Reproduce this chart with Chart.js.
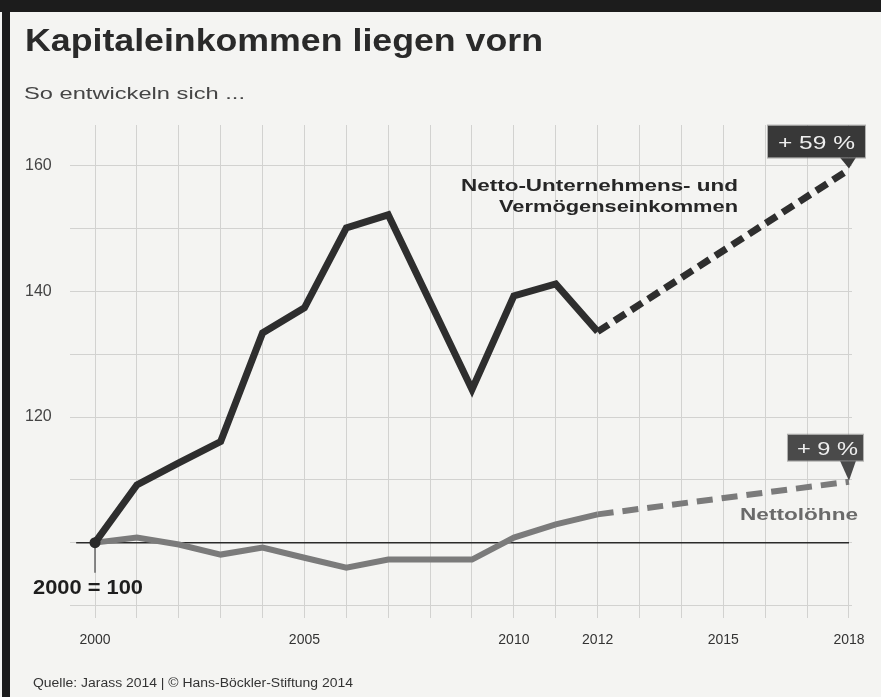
<!DOCTYPE html>
<html lang="de">
<head>
<meta charset="utf-8">
<title>Kapitaleinkommen liegen vorn</title>
<script src="https://cdn.jsdelivr.net/npm/chart.js@4"></script>
<style>
  html, body { margin: 0; padding: 0; background: #f4f4f2; }
  canvas { display: block; }
</style>
</head>
<body>
<canvas id="kapitalChart" width="881" height="697"></canvas>
<script>
// Werte (2000 = 100)
const years = [2000, 2001, 2002, 2003, 2004, 2005, 2006, 2007, 2008, 2009, 2010, 2011, 2012, 2018];
const kapital = [100, 109.2, 112.7, 116.1, 133.4, 137.4, 150.1, 152.2, 138.3, 124.4, 139.3, 141.2, 133.6, 159.4];
const loehne = [100, 100.8, 99.7, 98.1, 99.2, 97.6, 96.0, 97.3, 97.3, 97.3, 100.8, 102.9, 104.5, 109.7];
const xTickLabels = [2000, 2005, 2010, 2012, 2015, 2018];
const yTickLabels = [120, 140, 160];
const yGrid = [90, 100, 110, 120, 130, 140, 150, 160];
const prognoseAb = 2012;

const gridYears = [];
for (let y = 2000; y <= 2018; y++) gridYears.push(y);

const sans = '"Liberation Sans", Arial, sans-serif';

function fitText(ctx, text, left, right, baseline, font, color) {
  ctx.save();
  ctx.font = font;
  const w = ctx.measureText(text).width;
  ctx.translate(left, baseline);
  ctx.scale((right - left) / w, 1);
  ctx.fillStyle = color;
  ctx.textBaseline = 'alphabetic';
  ctx.textAlign = 'left';
  ctx.fillText(text, 0, 0);
  ctx.restore();
}

// Kasten mit Spitze, die auf den Endwert zeigt
function badge(ctx, text, tipX, tipY, box, textBox, fill) {
  ctx.save();
  ctx.fillStyle = fill;
  ctx.fillRect(tipX + box.l, tipY + box.t, box.r - box.l, box.b - box.t);
  ctx.beginPath();
  ctx.moveTo(tipX - 9, tipY + box.b);
  ctx.lineTo(tipX + 7, tipY + box.b);
  ctx.lineTo(tipX, tipY - 1);
  ctx.closePath();
  ctx.fill();
  ctx.strokeStyle = 'rgba(130,130,130,0.6)';
  ctx.lineWidth = 1;
  ctx.strokeRect(tipX + box.l - 0.5, tipY + box.t - 0.5, box.r - box.l + 1, box.b - box.t + 1);
  ctx.restore();
  fitText(ctx, text, tipX + textBox.l, tipX + textBox.r, tipY + textBox.base, '19px ' + sans, '#eeeeee');
}

const decor = {
  id: 'decor',
  beforeDraw(chart) {
    const ctx = chart.ctx;
    ctx.save();
    ctx.fillStyle = '#f4f4f2';
    ctx.fillRect(0, 0, chart.width, chart.height);
    ctx.fillStyle = '#1c1c1c';
    ctx.fillRect(0, 0, chart.width, 12);
    ctx.fillRect(2, 0, 8, chart.height);
    ctx.restore();
  },
  afterDatasetsDraw(chart) {
    const ctx = chart.ctx;
    const xs = chart.scales.x, ys = chart.scales.y;
    const last = years.length - 1;
    badge(ctx, '+ 59 %', xs.getPixelForValue(years[last]), ys.getPixelForValue(kapital[last]),
      { l: -81, r: 16, t: -44, b: -12 }, { l: -71, r: 6, base: -21 }, '#383838');
    badge(ctx, '+ 9 %', xs.getPixelForValue(years[last]), ys.getPixelForValue(loehne[last]),
      { l: -61, r: 14, t: -47, b: -21 }, { l: -52, r: 9, base: -27 }, '#4a4a4a');
  },
  afterDraw(chart) {
    const ctx = chart.ctx;
    fitText(ctx, 'Kapitaleinkommen liegen vorn', 25, 543, 51, 'bold 31px ' + sans, '#2a2a2a');
    fitText(ctx, 'So entwickeln sich ...', 24, 245, 99, '17px ' + sans, '#454545');
    fitText(ctx, 'Netto-Unternehmens- und', 461, 738, 191, 'bold 17px ' + sans, '#262626');
    fitText(ctx, 'Vermögenseinkommen', 499, 738, 212, 'bold 17px ' + sans, '#262626');
    fitText(ctx, 'Nettolöhne', 740, 858, 520, 'bold 17px ' + sans, '#6a6a6a');
    fitText(ctx, '2000 = 100', 33, 143, 594, 'bold 20px ' + sans, '#1e1e1e');
    fitText(ctx, 'Quelle: Jarass 2014 | © Hans-Böckler-Stiftung 2014', 33, 353, 687, '12px ' + sans, '#333333');
  }
};

const dashAfter = (pattern) => (ctx) => ctx.p0.parsed.x >= prognoseAb ? pattern : [];

const kapitalConfig = {
  type: 'line',
  data: {
    datasets: [
      {
        label: 'Netto-Unternehmens- und Vermögenseinkommen',
        data: years.map((x, i) => ({ x: x, y: kapital[i] })),
        borderColor: '#2e2e2e',
        borderWidth: 7,
        borderJoinStyle: 'miter',
        pointRadius: (c) => c.dataIndex === 0 ? 5.5 : 0,
        pointBackgroundColor: '#2a2a2a',
        pointBorderWidth: 0,
        segment: { borderDash: dashAfter([13, 7]) },
        order: 1
      },
      {
        label: 'Nettolöhne',
        data: years.map((x, i) => ({ x: x, y: loehne[i] })),
        borderColor: '#7b7b7b',
        borderWidth: 6,
        borderJoinStyle: 'miter',
        pointRadius: 0,
        segment: { borderDash: dashAfter([16, 9]) },
        order: 2
      },
      {
        label: 'Basis',
        data: [{ x: 1999.55, y: 100 }, { x: 2018, y: 100 }],
        borderColor: '#2a2a2a',
        borderWidth: 1.5,
        pointRadius: 0,
        order: 3
      },
      {
        label: 'Basisjahr',
        data: [{ x: 2000, y: 100 }, { x: 2000, y: 95.2 }],
        borderColor: '#666666',
        borderWidth: 1.5,
        pointRadius: 0,
        order: 3
      }
    ]
  },
  options: {
    responsive: false,
    animation: false,
    devicePixelRatio: 1,
    layout: {
      padding: { left: 25, right: 29, top: 125, bottom: 39 }
    },
    plugins: {
      legend: { display: false },
      tooltip: { enabled: false }
    },
    scales: {
      x: {
        type: 'linear',
        min: 1999.403,
        max: 2018.072,
        afterBuildTicks: (axis) => { axis.ticks = gridYears.map(v => ({ value: v })); },
        afterFit: (axis) => { axis.height = 40; },
        grid: { color: '#d2d2d0', lineWidth: 1, drawTicks: false },
        border: { display: false },
        ticks: {
          padding: 14,
          autoSkip: false,
          maxRotation: 0,
          color: '#333333',
          font: { family: sans, size: 14 },
          callback: (v) => xTickLabels.includes(v) ? String(v) : ''
        }
      },
      y: {
        min: 88,
        max: 166.5,
        afterBuildTicks: (axis) => { axis.ticks = yGrid.map(v => ({ value: v })); },
        afterFit: (axis) => { axis.width = 45; },
        grid: { color: '#d2d2d0', lineWidth: 1, drawTicks: false },
        border: { display: false },
        ticks: {
          crossAlign: 'far',
          padding: 0,
          color: '#444444',
          font: { family: sans, size: 16 },
          callback: (v) => yTickLabels.includes(v) ? String(v) : ''
        }
      }
    }
  },
  plugins: [decor]
};

const kapitalChart = new Chart(
  document.getElementById('kapitalChart'),
  kapitalConfig
);
</script>
</body>
</html>
